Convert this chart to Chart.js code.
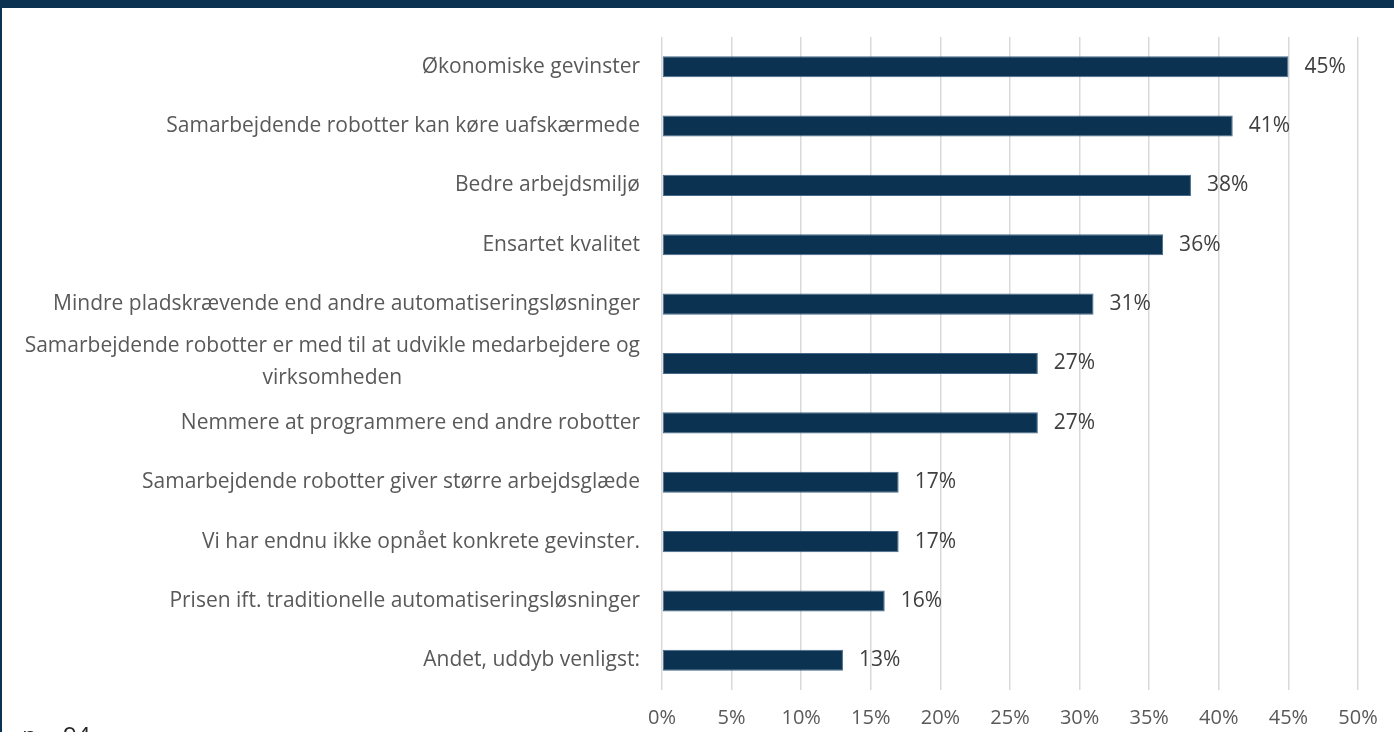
<!DOCTYPE html>
<html>
<head>
<meta charset="utf-8">
<script src="https://cdn.jsdelivr.net/npm/chart.js@4"></script>
<style>
  html, body { margin: 0; padding: 0; background: #fff; overflow: hidden; }
  #wrap { position: relative; width: 1394px; height: 732px; }
  #frame { position: absolute; left: 0; top: 0; width: 1392px; height: 724px;
           border-top: 8px solid #0b3251; border-left: 2px solid #0b3251; pointer-events: none; }
  #note { position: absolute; left: 22px; top: 723px; font: 24px "Open Sans", sans-serif; line-height: 24px; color: #262626; }
</style>
</head>
<body>
<div id="wrap">
  <canvas id="gainChart" width="1394" height="732"></canvas>
  <div id="frame"></div>
  <div id="note">n = 94</div>
</div>
<script>
// categories and values
var categories = [
    'Økonomiske gevinster',
    'Samarbejdende robotter kan køre uafskærmede',
    'Bedre arbejdsmiljø',
    'Ensartet kvalitet',
    'Mindre pladskrævende end andre automatiseringsløsninger',
    ['Samarbejdende robotter er med til at udvikle medarbejdere og', 'virksomheden'],
    'Nemmere at programmere end andre robotter',
    'Samarbejdende robotter giver større arbejdsglæde',
    'Vi har endnu ikke opnået konkrete gevinster.',
    'Prisen ift. traditionelle automatiseringsløsninger',
    'Andet, uddyb venligst:'
];
var values = [45, 41, 38, 36, 31, 27, 27, 17, 17, 16, 13];
var tickMin = 0, tickMax = 50, tickStep = 5;

var textColor = '#595959';
var font = '21px "Open Sans", sans-serif';

// category labels drawn by hand so the two-line label can be centred like the original
var categoryLabels = {
    id: 'categoryLabels',
    afterDraw: function (chart) {
        var ctx = chart.ctx;
        var y = chart.scales.y;
        ctx.save();
        ctx.font = font;
        ctx.fillStyle = textColor;
        ctx.textBaseline = 'middle';
        categories.forEach(function (label, i) {
            var cy = y.getPixelForValue(i);
            var right = chart.chartArea.left - 22;
            if (Array.isArray(label)) {
                var w = Math.max.apply(null, label.map(function (l) { return ctx.measureText(l).width; }));
                ctx.textAlign = 'center';
                var lh = 32;
                label.forEach(function (l, j) {
                    ctx.fillText(l, right - w / 2, cy - 1 + (j - (label.length - 1) / 2) * lh);
                });
            } else {
                ctx.textAlign = 'right';
                ctx.fillText(label, right, cy);
            }
        });
        ctx.restore();
    }
};

var valueLabels = {
    id: 'valueLabels',
    afterDatasetsDraw: function (chart) {
        var ctx = chart.ctx;
        ctx.save();
        ctx.font = font;
        ctx.fillStyle = '#404040';
        ctx.textAlign = 'left';
        ctx.textBaseline = 'middle';
        chart.getDatasetMeta(0).data.forEach(function (bar, i) {
            ctx.fillText(values[i] + '%', bar.x + 16, bar.y);
        });
        ctx.restore();
    }
};

var ctx1 = document.getElementById('gainChart').getContext('2d');
var gainChart = new Chart(ctx1, {
    type: 'bar',
    data: {
        labels: categories,
        datasets: [{
            data: values,
            backgroundColor: '#0b3251',
            borderColor: '#46698a',
            borderWidth: 1,
            borderSkipped: false,
            categoryPercentage: 1,
            barPercentage: 0.355
        }]
    },
    options: {
        indexAxis: 'y',
        responsive: false,
        animation: false,
        layout: { padding: { top: 37, right: 36, left: 0, bottom: 0 } },
        plugins: { legend: { display: false }, tooltip: { enabled: false } },
        scales: {
            x: {
                min: tickMin,
                max: tickMax,
                ticks: {
                    stepSize: tickStep,
                    color: textColor,
                    font: { family: '"Open Sans", sans-serif', size: 20 },
                    padding: 16,
                    callback: function (v) { return v + '%'; }
                },
                grid: { color: '#d9d9d9', lineWidth: 1.5, drawTicks: false },
                border: { display: false },
                afterFit: function (scale) { scale.height = 42; }
            },
            y: {
                ticks: { display: false },
                grid: { display: false },
                border: { display: false },
                afterFit: function (scale) { scale.width = 662; }
            }
        }
    },
    plugins: [categoryLabels, valueLabels]
});
</script>
</body>
</html>
